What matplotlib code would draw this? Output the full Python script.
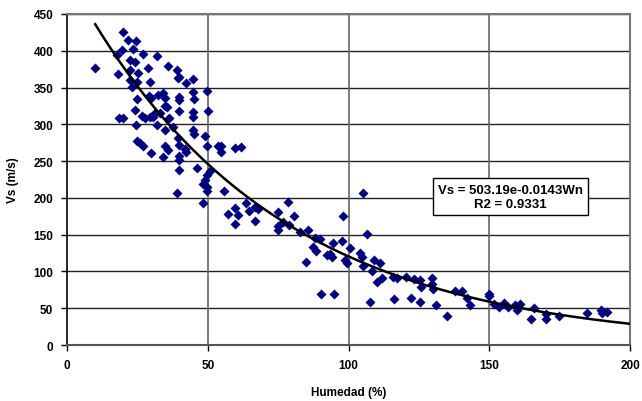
import numpy as np
import matplotlib.pyplot as plt

plt.rcParams['font.family'] = ['Liberation Sans', 'DejaVu Sans']

# Humedad (%) and Vs (m/s)
humedad = [
    9.9, 17.6, 18.2, 18.6, 20.0, 19.8, 19.4, 21.8, 24.4, 23.6, 22.4, 24.2, 27.1,
    22.4, 25.3, 22.4, 24.7, 23.0, 24.7, 24.2, 24.5, 24.7, 25.9, 26.9, 26.5, 27.7,
    28.9, 29.5, 29.2, 29.7, 29.5, 30.7, 31.3, 31.9, 31.9, 29.8, 32.4, 33.0, 34.2,
    34.8, 34.8, 35.6, 34.8, 34.8, 36.0, 34.2, 36.3, 36.0, 37.8, 39.0, 39.5, 39.9,
    42.3, 44.6, 39.9, 39.9, 39.9, 39.5, 39.9, 41.9, 42.3, 39.9, 39.9, 39.9, 39.0,
    44.9, 45.1, 44.9, 44.9, 44.9, 45.1, 49.6, 50.0, 49.0, 49.8, 46.2, 50.7, 49.6,
    49.0, 48.4, 49.8, 49.8, 48.3, 53.7, 54.6, 54.6, 59.7, 61.7, 55.9, 59.7, 57.3,
    60.6, 59.7, 63.6, 64.8, 66.8, 68.0, 66.8,
    74.8, 78.4, 80.7, 75.1, 74.8, 76.8, 79.0, 82.8, 85.7, 88.1, 89.9, 87.5, 88.5,
    84.8, 92.3, 93.4, 94.6, 94.0, 97.8, 98.2, 99.4, 98.8, 90.3, 94.8, 105.0, 106.7,
    100.5, 104.1, 104.7, 105.1, 109.0, 111.0, 108.2, 111.8, 110.0, 115.8, 117.3,
    120.5, 123.2, 125.4, 125.6, 129.5, 129.5, 129.9, 107.5, 116.3, 122.1, 125.4,
    131.1, 134.9, 137.8, 140.2, 142.0, 143.2, 150.0, 150.0, 151.8, 153.6, 155.2,
    156.8, 159.1, 160.0, 160.9, 164.7, 165.9, 170.0, 170.0, 174.9, 184.6, 189.7,
    190.0, 191.9,
]
vs = [
    376, 394, 369, 309, 309, 426, 401, 414, 413, 403, 387, 385, 396,
    374, 370, 360, 358, 351, 335, 319, 299, 278, 274, 270, 312, 308,
    376, 357, 339, 336, 310, 310, 315, 393, 299, 261, 340, 315, 342,
    336, 325, 324, 292, 271, 265, 256, 308, 379, 296, 374, 363, 365,
    356, 361, 337, 333, 318, 281, 272, 267, 263, 257, 251, 238, 206,
    344, 334, 317, 310, 292, 287, 345, 318, 284, 270, 241, 237, 231,
    224, 219, 215, 209, 193, 270, 271, 263, 268, 269, 209, 186, 178,
    177, 165, 193, 182, 187, 185, 168,
    181, 194, 175, 162, 157, 167, 163, 154, 156, 145, 144, 133, 128,
    113, 122, 124, 139, 119, 141, 176, 112, 115, 69, 69, 207, 151,
    132, 125, 119, 107, 116, 112, 101, 91, 85, 92, 91,
    92, 90, 88, 79, 91, 83, 76, 58, 62, 64, 59,
    54, 39, 73, 74, 64, 54, 69, 66, 56, 51, 57,
    51, 54, 48, 56, 35, 50, 42, 36, 39, 44, 47,
    44, 45,
]

# exponential trend shown on the chart
coef_a = 503.19
coef_b = -0.0143
trend_range = (10, 200)
label_eq = "Vs = 503.19e-0.0143Wn\nR2 = 0.9331"

fig = plt.figure(figsize=(6.42, 4.02), dpi=100)
ax = fig.add_axes([0.1044, 0.1393, 0.877, 0.8234])

ax.scatter(humedad, vs, marker='D', s=26, color='#000080', zorder=3, linewidths=0)

wn = np.linspace(trend_range[0], trend_range[1], 200)
ax.plot(wn, coef_a * np.exp(coef_b * wn), color='black', linewidth=1.8, zorder=4)

ax.set_xlim(0, 200)
ax.set_ylim(0, 450)
ax.set_xticks([0, 50, 100, 150, 200])
ax.set_yticks(np.arange(0, 451, 50))

for y in np.arange(50, 451, 50):
    ax.axhline(y, color='#222222', linewidth=1.0, zorder=1)
for x in [50, 100, 150]:
    ax.axvline(x, color='#666666', linewidth=1.2, zorder=1)

for side in ['top', 'right']:
    ax.spines[side].set_color('#777777')
    ax.spines[side].set_linewidth(1.5)
ax.spines['left'].set_color('black')
ax.spines['left'].set_linewidth(1.2)
ax.spines['bottom'].set_color('#555555')
ax.spines['bottom'].set_linewidth(1.5)

ax.tick_params(direction='out', length=4, width=1, labelsize=8.5, pad=6)
for lab in ax.get_xticklabels() + ax.get_yticklabels():
    lab.set_fontweight('bold')

ax.set_xlabel('Humedad (%)', fontsize=8.5, fontweight='bold', labelpad=11)
ax.set_ylabel('Vs (m/s)', fontsize=8.5, fontweight='bold', labelpad=10)

ax.text(157.6, 201.6, label_eq, ha='center', va='center', fontsize=9.5,
        fontweight='bold', linespacing=1.25, zorder=5,
        bbox=dict(boxstyle='square,pad=0.4', facecolor='white',
                  edgecolor='black', linewidth=1))

plt.savefig('out.png', dpi=100)
